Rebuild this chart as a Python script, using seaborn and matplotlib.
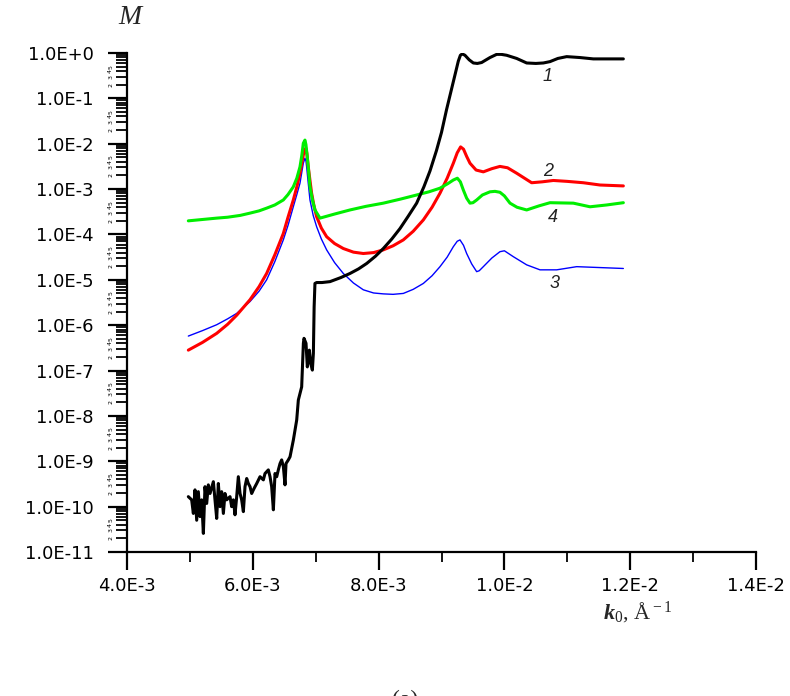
import numpy as np
import pandas as pd
import matplotlib
matplotlib.use("Agg")
import matplotlib.pyplot as plt
import matplotlib.ticker as mticker
import seaborn as sns

# k0 in units of 1e-3 1/A, M given as log10 exponent
k1 = [4.975, 5.028, 5.055, 5.081, 5.108, 5.134, 5.161, 5.187, 5.214, 5.240, 5.267, 5.293, 5.320,
      5.373, 5.399, 5.426, 5.452, 5.479, 5.505, 5.532, 5.558, 5.585, 5.638, 5.664, 5.691, 5.717,
      5.744, 5.770, 5.797, 5.823, 5.850, 5.876, 5.903, 5.929, 5.956, 5.982, 6.009, 6.035, 6.062,
      6.115, 6.168, 6.194, 6.247, 6.274, 6.300, 6.327, 6.353, 6.380, 6.406, 6.433, 6.459, 6.486,
      6.512, 6.528, 6.565, 6.592, 6.645, 6.698, 6.724, 6.777, 6.804, 6.814, 6.846, 6.867, 6.899,
      6.920, 6.947, 6.963, 6.975, 6.988, 7.015, 7.10, 7.227, 7.40, 7.545, 7.68, 7.810, 7.95, 8.075,
      8.21, 8.340, 8.47, 8.605, 8.72, 8.817, 8.92, 9.0, 9.08, 9.15, 9.22, 9.267, 9.30, 9.33, 9.373,
      9.44, 9.506, 9.57, 9.638, 9.71, 9.771, 9.877, 9.95, 10.036, 10.195, 10.354, 10.5, 10.619,
      10.725, 10.85, 10.99, 11.2, 11.414, 11.891]
e1 = [-9.78, -9.85, -10.15, -9.63, -10.30, -9.67, -10.22, -9.85, -10.59, -9.56, -9.93, -9.52, -9.71,
      -9.45, -9.85, -10.26, -9.49, -10.00, -9.67, -10.15, -9.71, -9.85, -9.78, -10.00, -9.85, -10.18,
      -9.78, -9.34, -9.71, -9.85, -10.11, -9.56, -9.38, -9.49, -9.56, -9.71, -9.63, -9.56, -9.49,
      -9.34, -9.41, -9.27, -9.19, -9.34, -9.56, -10.07, -9.27, -9.34, -9.19, -9.05, -8.97, -9.12,
      -9.52, -9.05, -8.97, -8.90, -8.53, -8.09, -7.65, -7.36, -6.40, -6.29, -6.40, -6.92, -6.55,
      -6.84, -6.99, -6.62, -5.60, -5.08, -5.06, -5.06, -5.04, -4.95, -4.86, -4.76, -4.64, -4.48, -4.31,
      -4.10, -3.87, -3.60, -3.31, -2.95, -2.60, -2.15, -1.75, -1.25, -0.85, -0.45, -0.18, -0.05, -0.02,
      -0.05, -0.15, -0.22, -0.23, -0.21, -0.15, -0.10, -0.03, -0.03, -0.05, -0.12, -0.22, -0.23, -0.22,
      -0.19, -0.12, -0.08, -0.10, -0.13, -0.13]

k2 = [4.975, 5.2, 5.426, 5.6, 5.744, 5.955, 6.1, 6.22, 6.35, 6.485, 6.56, 6.644, 6.70, 6.75, 6.78,
      6.803, 6.83, 6.845, 6.86, 6.882, 6.91, 6.935, 6.97, 7.015, 7.09, 7.174, 7.30, 7.439, 7.60,
      7.757, 7.92, 8.075, 8.23, 8.393, 8.55, 8.711, 8.85, 8.976, 9.09, 9.188, 9.25, 9.304, 9.35,
      9.40, 9.453, 9.55, 9.665, 9.80, 9.929, 10.05, 10.195, 10.433, 10.60, 10.778, 11.0, 11.255,
      11.52, 11.891]
e2 = [-6.55, -6.38, -6.18, -5.98, -5.78, -5.44, -5.15, -4.86, -4.45, -3.98, -3.62, -3.24, -2.95,
      -2.65, -2.42, -2.25, -2.12, -2.10, -2.22, -2.51, -2.82, -3.09, -3.35, -3.61, -3.86, -4.05,
      -4.20, -4.31, -4.39, -4.42, -4.40, -4.34, -4.25, -4.12, -3.93, -3.68, -3.40, -3.09, -2.76,
      -2.43, -2.20, -2.07, -2.12, -2.28, -2.43, -2.58, -2.62, -2.55, -2.50, -2.53, -2.65, -2.86,
      -2.84, -2.81, -2.83, -2.86, -2.91, -2.93]

k3 = [4.975, 5.2, 5.426, 5.6, 5.744, 5.955, 6.1, 6.22, 6.35, 6.485, 6.56, 6.644, 6.70, 6.75, 6.78,
      6.803, 6.829, 6.845, 6.856, 6.88, 6.909, 6.96, 7.015, 7.09, 7.174, 7.30, 7.439, 7.60, 7.757,
      7.92, 8.075, 8.23, 8.393, 8.55, 8.711, 8.85, 8.976, 9.09, 9.188, 9.25, 9.294, 9.35, 9.40,
      9.48, 9.559, 9.60, 9.665, 9.80, 9.929, 10.0, 10.142, 10.354, 10.566, 10.831, 11.149, 11.52,
      11.891]
e3 = [-6.24, -6.12, -5.99, -5.86, -5.74, -5.48, -5.25, -5.00, -4.60, -4.12, -3.80, -3.39, -3.12,
      -2.87, -2.62, -2.43, -2.32, -2.38, -2.51, -2.85, -3.24, -3.58, -3.83, -4.10, -4.34, -4.62,
      -4.86, -5.07, -5.22, -5.29, -5.31, -5.32, -5.30, -5.21, -5.08, -4.91, -4.71, -4.50, -4.27,
      -4.15, -4.12, -4.24, -4.42, -4.65, -4.82, -4.80, -4.71, -4.52, -4.38, -4.36, -4.49, -4.67,
      -4.78, -4.78, -4.71, -4.73, -4.75]

k4 = [4.975, 5.2, 5.426, 5.6, 5.8, 5.955, 6.1, 6.22, 6.35, 6.485, 6.56, 6.644, 6.70, 6.75, 6.78,
      6.803, 6.829, 6.845, 6.866, 6.89, 6.909, 6.95, 6.988, 7.068, 7.30, 7.545, 7.80, 8.075, 8.35,
      8.605, 8.80, 8.976, 9.10, 9.188, 9.252, 9.30, 9.347, 9.40, 9.453, 9.50, 9.559, 9.65, 9.771,
      9.85, 9.929, 10.0, 10.089, 10.2, 10.354, 10.55, 10.725, 11.096, 11.361, 11.626, 11.891]
e4 = [-3.70, -3.67, -3.64, -3.62, -3.58, -3.53, -3.48, -3.42, -3.35, -3.24, -3.12, -2.95, -2.76,
      -2.51, -2.25, -1.99, -1.92, -2.02, -2.29, -2.65, -2.95, -3.25, -3.46, -3.64, -3.55, -3.46,
      -3.38, -3.31, -3.22, -3.13, -3.06, -2.98, -2.88, -2.80, -2.76, -2.84, -3.02, -3.20, -3.31,
      -3.30, -3.24, -3.13, -3.06, -3.05, -3.07, -3.15, -3.31, -3.40, -3.46, -3.37, -3.30, -3.31,
      -3.39, -3.35, -3.30]

curve_names = ["1", "2", "3", "4"]
curve_colors = ["black", "#ff0000", "#0000ff", "#00ee00"]

def to_frame(k, e):
    return pd.DataFrame({"k0": np.array(k) * 1e-3, "M": 10.0 ** np.array(e)})

sns.set_style("ticks")
plt.rcParams["font.family"] = ["DejaVu Sans"]
plt.rcParams["mathtext.fontset"] = "custom"
plt.rcParams["mathtext.it"] = "Liberation Serif:italic:bold"
plt.rcParams["mathtext.rm"] = "Liberation Serif"

fig = plt.figure(figsize=(7.9, 6.96), dpi=100)
ax = fig.add_axes([127 / 790, 1 - 552 / 696, (756 - 127) / 790, (552 - 53) / 696])

# drawing order: blue under red under green under black
data = [(k3, e3, curve_colors[2], 1.0, 2), (k2, e2, curve_colors[1], 2.2, 3),
        (k4, e4, curve_colors[3], 2.2, 4), (k1, e1, curve_colors[0], 2.2, 5)]
for k, e, c, lw, z in data:
    df = to_frame(k, e)
    sns.lineplot(data=df, x="k0", y="M", ax=ax, sort=False, estimator=None,
                 color=c, linewidth=lw, zorder=z)

ax.set_yscale("log")
ax.set_xlim(4e-3, 1.4e-2)
ax.set_ylim(1e-11, 1.0)

def minor_lab(v, p):
    d = int(round(v / 10 ** np.floor(np.log10(v) + 1e-9)))
    return str(d) if d <= 5 else ""

ax.yaxis.set_major_locator(mticker.LogLocator(base=10, numticks=20))
ax.yaxis.set_major_formatter(mticker.FuncFormatter(lambda v, p: "1.0E%+d" % int(round(np.log10(v)))))
ax.yaxis.set_minor_locator(mticker.LogLocator(base=10, subs=np.arange(2, 10), numticks=200))
ax.yaxis.set_minor_formatter(mticker.FuncFormatter(minor_lab))

def fmt_x(v, p):
    e = int(np.floor(np.log10(v) + 1e-9))
    return "%.1fE%d" % (v / 10 ** e, e)

ax.xaxis.set_major_locator(mticker.MultipleLocator(2e-3))
ax.xaxis.set_minor_locator(mticker.MultipleLocator(1e-3))
ax.xaxis.set_major_formatter(mticker.FuncFormatter(fmt_x))

for s in ["top", "right"]:
    ax.spines[s].set_visible(False)
for s in ["left", "bottom"]:
    ax.spines[s].set_linewidth(1.6)
    ax.spines[s].set_color("black")

ax.tick_params(axis="y", which="major", direction="out", length=14, width=1.6,
               labelsize=13, pad=10, colors="black")
ax.tick_params(axis="y", which="minor", direction="out", length=8, width=1.3,
               labelsize=4.5, pad=2, labelrotation=90, colors="black")
ax.tick_params(axis="x", which="major", direction="out", length=13, width=1.6,
               labelsize=13, pad=5, colors="black")
ax.tick_params(axis="x", which="minor", direction="out", length=7, width=1.3, colors="black")
ax.set_xlabel("")
ax.set_ylabel("")
ax.grid(False)

# curve numbers
label_pos = {"1": (10.69e-3, 10 ** -0.51), "2": (10.69e-3, 10 ** -2.62),
             "4": (10.77e-3, 10 ** -3.62), "3": (10.80e-3, 10 ** -5.09)}
for name in curve_names:
    x, y = label_pos[name]
    ax.text(x, y, name, fontsize=13, style="italic", ha="center", va="center",
            family="Liberation Sans", color="#222222")

fig.text(130 / 790, 1 - 18 / 696, "M", fontsize=20, style="italic", family="Liberation Serif",
         ha="center", va="center")
fig.text(603 / 790, 1 - 612 / 696, r"$k_{\rm 0}$, Å$^{\rm -1}$", fontsize=16,
         family="Liberation Serif", ha="left", va="center")
fig.text(405 / 790, 1 - 690 / 696, "(a)", fontsize=17, family="Liberation Serif",
         ha="center", va="top")

fig.savefig("out.png", dpi=100, facecolor="white")
